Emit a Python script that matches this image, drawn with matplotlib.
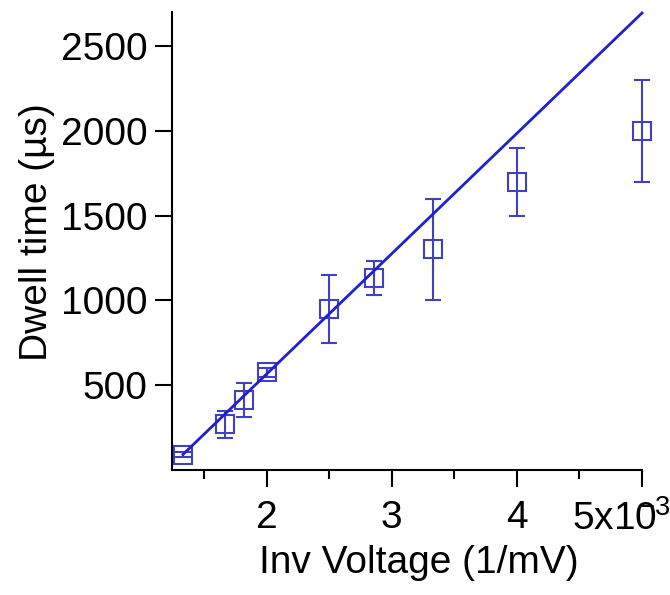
import matplotlib
matplotlib.use("Agg")
import matplotlib.pyplot as plt
import matplotlib.transforms as mtransforms
import numpy as np

plt.rcParams['font.family'] = ['Liberation Sans', 'DejaVu Sans']

# voltages in mV, plotted as 1/V
voltage_mV = [750, 600, 550, 500, 400, 350, 300, 250, 200]
dwell_us = [90, 270, 410, 575, 950, 1130, 1300, 1700, 2000]
dwell_err = [15, 80, 100, 25, 200, 100, 300, 200, 300]

# straight line fit drawn across the data range
fit_x = [1 / 750, 1 / 200]
fit_y = [92, 2694]

x_ticks = [0.002, 0.003, 0.004, 0.005]
x_minor = [0.0015, 0.0025, 0.0035, 0.0045]
x_ticklabels = ['2', '3', '4', r'5x10$^{\!\!\!\!\mathregular{-3}}$']
y_ticks = [500, 1000, 1500, 2000, 2500]

inv_v = 1 / np.array(voltage_mV)

fig = plt.figure(figsize=(6.7, 5.95), dpi=100)
ax = fig.add_axes([172 / 670, 125 / 595, 470 / 670, 458 / 595])

ax.plot(fit_x, fit_y, color='#1f1fd4', lw=2.0, zorder=3, clip_on=False)
ax.errorbar(inv_v, dwell_us, yerr=dwell_err, fmt='s', mfc='none', mec='#4040c4',
            ms=12.5, mew=1.5, ecolor='#4040c4', elinewidth=1.5, capsize=5.5,
            capthick=1.5, zorder=2, clip_on=False)

ax.set_xlim(0.001245, 0.005)
ax.set_ylim(0, 2700)
ax.spines['top'].set_visible(False)
ax.spines['right'].set_visible(False)
ax.spines['left'].set_linewidth(1.5)
ax.spines['bottom'].set_linewidth(1.5)

ax.set_xticks(x_ticks, x_ticklabels, fontsize=28)
ax.set_xticks(x_minor, minor=True)
ax.set_yticks(y_ticks, [str(v) for v in y_ticks], fontsize=28)
ax.tick_params(which='major', length=12.5, width=1.5, direction='out')
ax.tick_params(which='minor', length=6.5, width=1.5, direction='out')
ax.tick_params(axis='x', pad=9)
ax.tick_params(axis='y', pad=5)

# last label sits left of its tick, like the original
last = ax.get_xticklabels()[-1]
last.set_horizontalalignment('left')
last.set_transform(last.get_transform() + mtransforms.ScaledTranslation(-0.70, 0, fig.dpi_scale_trans))

ax.set_xlabel('Inv Voltage (1/mV)', fontsize=28)
ax.set_ylabel('Dwell time (µs)', fontsize=28)
ax.xaxis.set_label_coords(0.525, -0.164)
ax.yaxis.set_label_coords(-0.249, 0.52)

fig.savefig('out.png', dpi=100)
